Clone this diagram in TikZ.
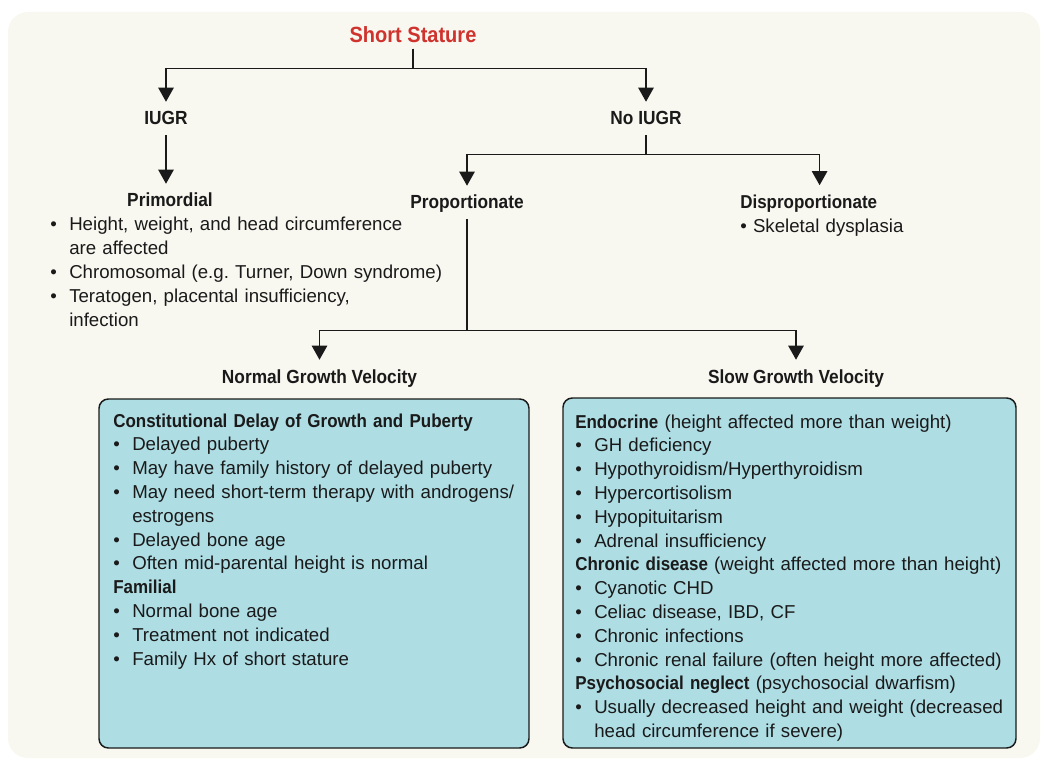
\documentclass[tikz,border=0pt]{standalone}
\usepackage{fontspec}
\setmainfont{Liberation Sans}[BoldFeatures={FakeStretch=0.91}]
\usetikzlibrary{arrows.meta}
\definecolor{panelbg}{RGB}{248,247,240}
\definecolor{boxfill}{RGB}{174,221,228}
\definecolor{ink}{RGB}{26,26,26}
\definecolor{titlered}{RGB}{208,50,45}
\newcommand{\bmark}{\hangindent=14.25pt\hangafter=1\makebox[14.25pt][l]{\textbullet}}
\newcommand{\bitem}{\par\noindent\bmark}
\newcommand{\bhead}[1]{\par\noindent\textbf{#1}}

\begin{document}
\begin{tikzpicture}[x=0.75pt,y=-0.75pt,
  every node/.style={font=\fontsize{14pt}{17.85pt}\selectfont,text=ink},
  hdr/.style={font=\fontsize{14.25pt}{17.85pt}\selectfont\bfseries,anchor=base,inner xsep=0pt,inner ysep=4.5pt,text height=12.75pt,text depth=3pt},
  ttl/.style={font=\fontsize{16.5pt}{19pt}\selectfont\bfseries,text=titlered,anchor=base,inner xsep=0pt,inner ysep=1pt,text depth=3pt},
  notes/.style={anchor=base west,inner sep=0pt,align=left},
  cbox/.style={draw=ink,fill=boxfill,line width=1.1pt,rounded corners=7pt},
  arr/.style={draw=ink,line width=1.1pt,-{Triangle[width=11.5pt,length=10.5pt]}}]
\useasboundingbox (0,0) rectangle (1042,759);
\fill[panelbg,rounded corners=15pt] (8,12) rectangle (1040,758);

% headings
\node[ttl] (short) at (413,43) {Short Stature};
\node[hdr] (iugr) at (166,125) {IUGR};
\node[hdr] (noiugr) at (646,125) {No IUGR};
\node[hdr] (prim) at (170,207) {Primordial};
\node[hdr] (prop) at (467,209) {Proportionate};
\node[notes,text width=119pt,inner ysep=7.5pt] (disp) at (740,209) {\textbf{Disproportionate}\\\mbox{\textbullet\ Skeletal dysplasia}};
\node[hdr] (normal) at (319.5,383) {Normal Growth Velocity};
\node[hdr] (slow) at (796,383) {Slow Growth Velocity};

\node[notes,text width=330pt] (primlist) at (50,231) {\bmark Height, weight, and head circumference\newline are affected
  \bitem Chromosomal (e.g.\ Turner, Down syndrome)
  \bitem Teratogen, placental insufficiency,\newline infection\par};

% boxes
\draw[cbox] (99,399) rectangle (529,748);
\node[notes,text width=320pt] (cdgp) at (113,427) {\textbf{Constitutional Delay of Growth and Puberty}
  \bitem Delayed puberty
  \bitem May have family history of delayed puberty
  \bitem May need short-term therapy with androgens/\newline estrogens
  \bitem Delayed bone age
  \bitem Often mid-parental height is normal
  \bhead{Familial}
  \bitem Normal bone age
  \bitem Treatment not indicated
  \bitem Family Hx of short stature\par};

\draw[cbox] (563,398) rectangle (1016,748);
\node[notes,text width=345pt] (sgv) at (575,428) {\textbf{Endocrine} (height affected more than weight)
  \bitem GH deficiency
  \bitem Hypothyroidism/Hyperthyroidism
  \bitem Hypercortisolism
  \bitem Hypopituitarism
  \bitem Adrenal insufficiency
  \bhead{Chronic disease} (weight affected more than height)
  \bitem Cyanotic CHD
  \bitem Celiac disease, IBD, CF
  \bitem Chronic infections
  \bitem Chronic renal failure (often height more affected)
  \bhead{Psychosocial neglect} (psychosocial dwarfism)
  \bitem Usually decreased height and weight (decreased\newline head circumference if severe)\par};

% connectors
\draw[arr] (short.south) -- ++(0,20) -| (iugr.north);
\draw[arr] (short.south) -- ++(0,20) -| (noiugr.north);
\draw[arr] (iugr.south) -- (iugr.south |- prim.north);
\draw[arr] (noiugr.south) -- ++(0,19) -| (prop.north);
\draw[arr] (noiugr.south) -- ++(0,19) -| (disp.north);
\draw[arr] (prop.south) -- ++(0,111) -| (normal.north);
\draw[arr] (prop.south) -- ++(0,111) -| (slow.north);
\end{tikzpicture}
\end{document}
